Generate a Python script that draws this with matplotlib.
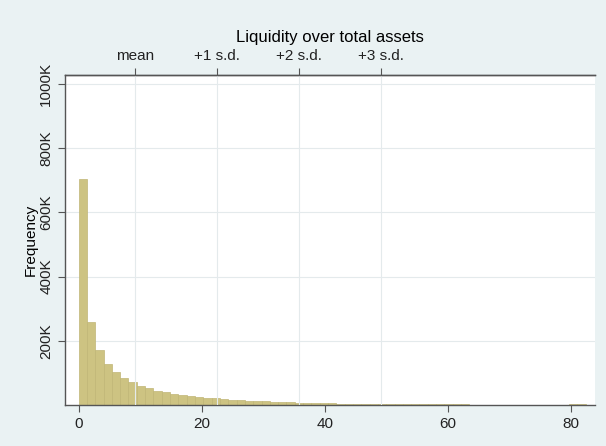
import numpy as np
import matplotlib.pyplot as plt

plt.rcParams['font.family'] = ['Liberation Sans', 'DejaVu Sans']

# istogramma: 61 classi di ampiezza costante a partire da 0
bin_width = 1.351
counts_k = [703, 260, 171, 128, 103, 83, 71, 60, 52, 45,
            40, 35, 31, 28, 25, 23, 21, 19, 17, 15.5,
            14, 12.5, 11, 10, 9, 8.2, 7.5, 6.8, 6.2, 5.6,
            5.1, 4.7, 4.3, 4.0, 3.7, 3.4, 3.1, 2.9, 2.7, 2.5,
            2.3, 2.1, 2.0, 1.9, 1.8, 1.7, 1.6, 1.5, 1.4, 1.3,
            1.2, 1.2, 1.1, 1.1, 1.0, 1.0, 1.0, 0.9, 0.9, 2.5,
            4.0]
counts = np.array(counts_k) * 1000

# media e deviazione standard (asse superiore)
mean = 9.2
sd = 13.3
top_labels = ["mean", "+1 s.d.", "+2 s.d.", "+3 s.d."]

x_ticks = [0, 20, 40, 60, 80]
y_ticks = [200000, 400000, 600000, 800000, 1000000]
y_labels = ["200K", "400K", "600K", "800K", "1000K"]

bg = "#eaf2f3"
axis_col = "#555555"
grid_col = "#e4eaec"

fig = plt.figure(figsize=(6.06, 4.46), dpi=100, facecolor=bg)
ax = fig.add_axes([0.1073, 0.0919, 0.8745, 0.74])
ax.set_facecolor("white")

edges = np.arange(len(counts)) * bin_width
ax.bar(edges, counts, width=bin_width, align="edge",
       color="#cdc382", edgecolor="#c0b676", linewidth=0.5, zorder=2)

ax.set_xlim(-2.2, 83.9)
ax.set_ylim(0, 1028000)

ax.set_xticks(x_ticks)
ax.set_yticks(y_ticks)
ax.set_yticklabels(y_labels, rotation=90, va="center")
ax.set_ylabel("Frequency", fontsize=11, labelpad=1)
ax.yaxis.grid(True, color=grid_col, linewidth=0.8, zorder=0)
ax.set_axisbelow(True)

for s in ["right"]:
    ax.spines[s].set_visible(False)
for s in ["left", "bottom", "top"]:
    ax.spines[s].set_color(axis_col)
    ax.spines[s].set_linewidth(1.0)
ax.tick_params(colors="#222222", labelsize=11, length=5, width=0.8,
               color=axis_col)

# asse superiore con media e s.d.
ax2 = ax.twiny()
ax2.set_xlim(ax.get_xlim())
ax2.set_xticks([mean + k * sd for k in range(4)])
ax2.set_xticklabels(top_labels)
ax2.tick_params(colors="#222222", labelsize=11, length=5, width=0.8,
                color=axis_col)
ax2.xaxis.grid(True, color=grid_col, linewidth=0.8)
ax2.set_axisbelow(True)
ax2.set_xlabel("Liquidity over total assets", fontsize=12, labelpad=5)
for s in ["right", "left", "bottom"]:
    ax2.spines[s].set_visible(False)
ax2.spines["top"].set_color(axis_col)
ax2.spines["top"].set_linewidth(1.0)

fig.savefig("out.png", dpi=100, facecolor=bg)
